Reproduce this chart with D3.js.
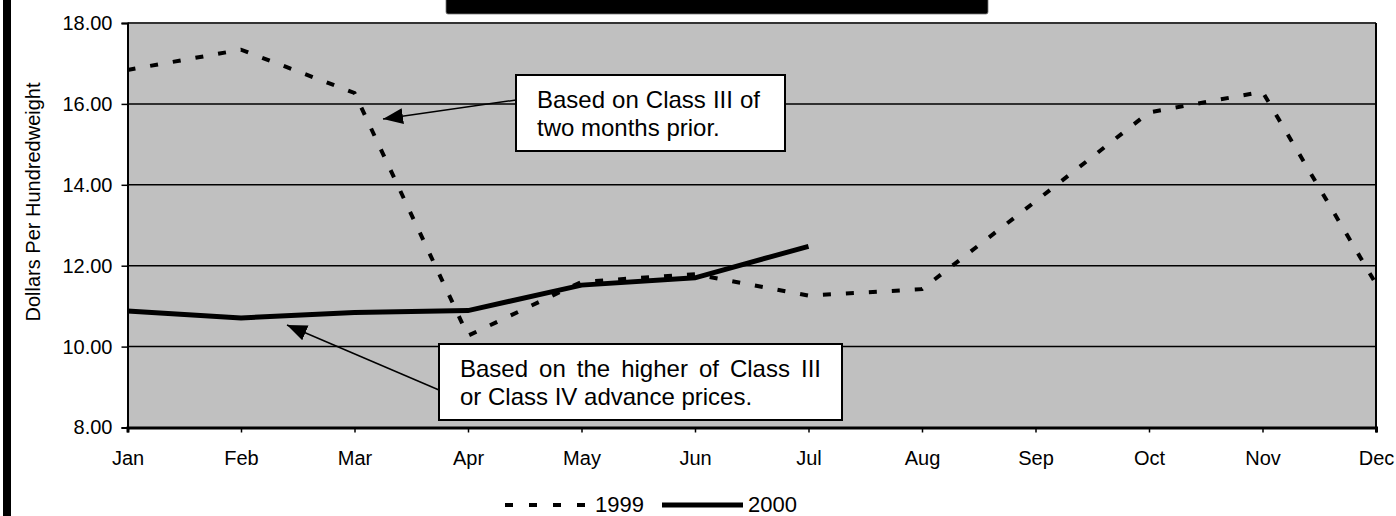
<!DOCTYPE html>
<html lang="en">
<head>
<meta charset="UTF-8">
<title>Class I Price Mover</title>
<script src="https://d3js.org/d3.v7.min.js"></script>
<style>
  body { margin: 0; background: #fff; }
  svg { display: block; font-family: "Liberation Sans", Arial, sans-serif; }
</style>
</head>
<body>
<script>
// values ($/cwt)
var months = ["Jan", "Feb", "Mar", "Apr", "May", "Jun", "Jul", "Aug", "Sep", "Oct", "Nov", "Dec"];
var yTicks = [8, 10, 12, 14, 16, 18];
var mover1999 = [16.84, 17.34, 16.27, 10.27, 11.60, 11.79, 11.26, 11.42, 13.59, 15.79, 16.30, 11.55];
var mover2000 = [10.88, 10.71, 10.84, 10.89, 11.52, 11.70, 12.48];
var seriesNames = ["1999", "2000"];
var note1 = ["Based on Class III of", "two months prior."];
var note2 = ["Based on the higher of Class III", "or Class IV advance prices."];

var width = 1396, height = 516;
var margin = { top: 23, right: 20, bottom: 88.5, left: 127.5 };

var svg = d3.select("body").append("svg")
  .attr("width", width)
  .attr("height", height);

var x = d3.scalePoint()
  .domain(months)
  .range([margin.left, width - margin.right]);

var y = d3.scaleLinear()
  .domain([8, 18])
  .range([height - margin.bottom, margin.top]);

// left black bar + black title block
svg.append("rect").attr("x", 3).attr("y", 0).attr("width", 8).attr("height", height).attr("fill", "#000");
svg.append("rect").attr("x", 446).attr("y", -6).attr("width", 542).attr("height", 20)
  .attr("rx", 2).attr("fill", "#000").attr("stroke", "#777").attr("stroke-width", 0.8);

// plot area
svg.append("rect")
  .attr("x", margin.left).attr("y", margin.top)
  .attr("width", width - margin.right - margin.left)
  .attr("height", y(8) - y(18))
  .attr("fill", "#c0c0c0");

// gridlines
svg.append("g").selectAll("line")
  .data(yTicks.filter(function (d) { return d > 8 && d < 18; }))
  .join("line")
  .attr("x1", margin.left).attr("x2", width - margin.right)
  .attr("y1", function (d) { return y(d); })
  .attr("y2", function (d) { return y(d); })
  .attr("stroke", "#000").attr("stroke-width", 1.5);

// top + right border
svg.append("line").attr("x1", margin.left).attr("x2", width - margin.right)
  .attr("y1", y(18)).attr("y2", y(18)).attr("stroke", "#333").attr("stroke-width", 2);
svg.append("line").attr("x1", width - margin.right).attr("x2", width - margin.right)
  .attr("y1", y(18)).attr("y2", y(8)).attr("stroke", "#000").attr("stroke-width", 2);

// axes
var yAxis = svg.append("g")
  .attr("transform", "translate(" + margin.left + ",0)")
  .call(d3.axisLeft(y).tickValues(yTicks).tickFormat(d3.format(".2f")).tickSize(6).tickPadding(9));
var xAxis = svg.append("g")
  .attr("transform", "translate(0," + y(8) + ")")
  .call(d3.axisBottom(x).tickSize(5).tickPadding(18));

yAxis.select(".domain").attr("stroke-width", 2);
xAxis.select(".domain").attr("stroke-width", 3);
svg.selectAll(".tick line").attr("stroke-width", 1.5);
svg.selectAll(".tick text").attr("font-size", 20).attr("font-family", "Liberation Sans, Arial, sans-serif").attr("fill", "#000");

svg.append("text")
  .attr("transform", "translate(40," + 202 + ") rotate(-90)")
  .attr("text-anchor", "middle")
  .attr("font-size", 20)
  .text("Dollars Per Hundredweight");

// series
var line = d3.line()
  .x(function (d, i) { return x(months[i]); })
  .y(function (d) { return y(d); });

svg.append("path")
  .datum(mover1999)
  .attr("d", line)
  .attr("fill", "none")
  .attr("stroke", "#000")
  .attr("stroke-width", 4)
  .attr("stroke-dasharray", "8,15");

svg.append("path")
  .datum(mover2000)
  .attr("d", line)
  .attr("fill", "none")
  .attr("stroke", "#000")
  .attr("stroke-width", 5);

// callouts
svg.append("defs").append("marker")
  .attr("id", "arr")
  .attr("viewBox", "0 0 20 16")
  .attr("refX", 20).attr("refY", 8)
  .attr("markerWidth", 20).attr("markerHeight", 16)
  .attr("markerUnits", "userSpaceOnUse")
  .attr("orient", "auto")
  .append("path").attr("d", "M0,0 L20,8 L0,16 Z").attr("fill", "#000");

function callout(lines, box, from, to, justify) {
  svg.append("line")
    .attr("x1", from[0]).attr("y1", from[1])
    .attr("x2", to[0]).attr("y2", to[1])
    .attr("stroke", "#000").attr("stroke-width", 1.5)
    .attr("marker-end", "url(#arr)");
  svg.append("rect")
    .attr("x", box.x).attr("y", box.y).attr("width", box.w).attr("height", box.h)
    .attr("fill", "#fff").attr("stroke", "#000").attr("stroke-width", 2);
  lines.forEach(function (t, i) {
    var txt = svg.append("text")
      .attr("x", box.x + 21)
      .attr("y", box.y + 33 + i * 27.5)
      .attr("font-size", 24)
      .text(t);
    if (justify && i < lines.length - 1) {
      var spaces = t.split(" ").length - 1;
      var extra = (justify - txt.node().getComputedTextLength()) / spaces;
      txt.attr("word-spacing", extra);
    }
  });
}

callout(note1, { x: 516, y: 75, w: 269, h: 76 }, [516, 100], [383, 119], 223);
callout(note2, { x: 439, y: 344, w: 403, h: 76 }, [439, 390], [287, 325], 361);

// legend
var legend = svg.append("g");
var legendX = [505, 662];
seriesNames.forEach(function (name, i) {
  legend.append("line")
    .attr("x1", legendX[i]).attr("x2", legendX[i] + 81)
    .attr("y1", 505).attr("y2", 505)
    .attr("stroke", "#000")
    .attr("stroke-width", i === 0 ? 4 : 5)
    .attr("stroke-dasharray", i === 0 ? "8,16" : null);
  legend.append("text")
    .attr("x", legendX[i] + (i === 0 ? 90 : 86))
    .attr("y", 512)
    .attr("font-size", 22)
    .text(name);
});
</script>
</body>
</html>
